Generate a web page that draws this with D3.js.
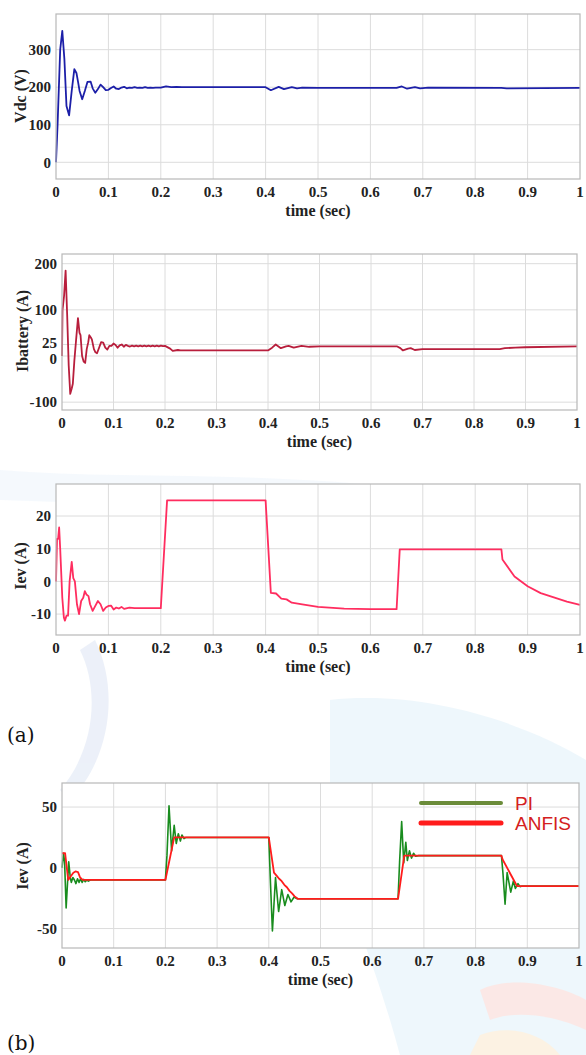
<!DOCTYPE html>
<html>
<head>
<meta charset="utf-8">
<title>Vdc / Ibattery / Iev responses</title>
<script src="https://d3js.org/d3.v7.min.js"></script>
<style>
  body { margin: 0; background: #fff; }
  svg { display: block; }
  .tick-label { font-family: "Liberation Serif", "Times New Roman", serif; font-weight: bold; font-size: 15px; fill: #222; }
  .axis-title { font-family: "Liberation Serif", "Times New Roman", serif; font-weight: bold; font-size: 16px; fill: #222; }
  .grid line { stroke: #dcdcdc; stroke-width: 1; }
  .frame { fill: none; stroke: #b8b8b8; stroke-width: 1.2; }
  .panel-tag { font-family: "DejaVu Serif", "Liberation Serif", serif; font-size: 20px; fill: #111; }
  .legend-text { font-family: "Liberation Sans", Arial, sans-serif; font-size: 19px; fill: #d42020; }
</style>
</head>
<body>
<svg id="chart" width="586" height="1055"></svg>
<script>
// ---- data ----
const timeTicks = [0, 0.1, 0.2, 0.3, 0.4, 0.5, 0.6, 0.7, 0.8, 0.9, 1];

const vdcTicks = [0, 100, 200, 300];
const vdcPoints = [
  [0, 0], [0.003, 100], [0.008, 300], [0.012, 350], [0.016, 275], [0.02, 150], [0.025, 125],
  [0.03, 190], [0.035, 248], [0.039, 238], [0.042, 215], [0.045, 190], [0.05, 168], [0.055, 190],
  [0.06, 214], [0.066, 215], [0.07, 197], [0.075, 185], [0.08, 195], [0.085, 207], [0.09, 200],
  [0.095, 192], [0.1, 193], [0.105, 198], [0.11, 202], [0.115, 196], [0.12, 195], [0.125, 199],
  [0.13, 201], [0.135, 197], [0.14, 199], [0.145, 198], [0.15, 200], [0.155, 198], [0.16, 199],
  [0.165, 198], [0.17, 200], [0.175, 198], [0.18, 199], [0.185, 198], [0.19, 199], [0.2, 199],
  [0.21, 202], [0.22, 200], [0.23, 201], [0.24, 200], [0.4, 200], [0.41, 192], [0.425, 201],
  [0.435, 195], [0.45, 200], [0.46, 197], [0.47, 199], [0.5, 198], [0.65, 198], [0.66, 202],
  [0.67, 196], [0.685, 200], [0.695, 197], [0.71, 199], [0.85, 198], [0.86, 197], [1, 198]
];

const ibatTicks = [-100, 0, 25, 100, 200];
const ibatPoints = [
  [0, 0], [0.001, 100], [0.004, 130], [0.007, 185], [0.01, 90], [0.013, -20], [0.016, -82],
  [0.019, -70], [0.021, -60], [0.024, -10], [0.027, 30], [0.031, 82], [0.034, 50], [0.036, 45],
  [0.039, 0], [0.042, -12], [0.045, -15], [0.048, 15], [0.051, 30], [0.053, 45], [0.056, 40],
  [0.058, 36], [0.062, 15], [0.065, 8], [0.068, 6], [0.072, 18], [0.076, 30], [0.08, 29],
  [0.084, 18], [0.088, 14], [0.092, 22], [0.096, 22], [0.1, 27], [0.104, 24], [0.108, 18],
  [0.112, 23], [0.116, 25], [0.12, 20], [0.124, 24], [0.128, 22], [0.132, 20.5], [0.136, 22.5],
  [0.14, 21], [0.144, 22.5], [0.148, 21], [0.152, 22.5], [0.156, 21], [0.16, 22.5], [0.164, 21],
  [0.168, 22.5], [0.172, 21], [0.176, 22.5], [0.18, 21], [0.184, 22.5], [0.188, 21], [0.192, 22.5],
  [0.196, 21.5], [0.2, 22], [0.21, 16], [0.215, 11], [0.225, 13], [0.23, 12], [0.4, 12],
  [0.408, 18], [0.415, 25], [0.425, 17], [0.435, 21], [0.44, 22], [0.45, 18], [0.465, 22],
  [0.48, 20], [0.5, 21], [0.65, 21], [0.657, 17], [0.662, 12], [0.672, 16], [0.677, 17],
  [0.685, 13], [0.7, 15], [0.85, 15], [0.86, 17], [0.88, 18], [0.9, 19], [1, 21]
];

const iev1Ticks = [-10, 0, 10, 20];
const iev1Points = [
  [0, 0], [0.002, 13], [0.004, 13], [0.006, 16.5], [0.008, 10], [0.012, -5], [0.015, -11],
  [0.017, -12], [0.02, -10.5], [0.023, -10.5], [0.026, 0], [0.03, 6], [0.033, 1], [0.036, 0],
  [0.04, -7], [0.044, -10], [0.048, -6], [0.052, -5], [0.055, -3], [0.058, -4], [0.062, -4.5],
  [0.065, -7], [0.07, -9], [0.075, -7.5], [0.08, -6], [0.085, -7], [0.09, -9], [0.095, -8],
  [0.1, -7.5], [0.105, -7.4], [0.11, -8.6], [0.115, -8], [0.12, -8.3], [0.125, -7.8], [0.13, -8.4],
  [0.14, -8], [0.15, -8.2], [0.2, -8.2], [0.212, 24.8], [0.4, 24.8], [0.41, -3.5], [0.42, -3.7],
  [0.43, -5.3], [0.44, -5.5], [0.45, -6.5], [0.47, -7], [0.5, -7.8], [0.55, -8.3], [0.6, -8.5],
  [0.65, -8.5], [0.656, 9.8], [0.85, 9.8], [0.852, 6.7], [0.875, 1.5], [0.9, -1.5],
  [0.925, -3.6], [0.95, -4.9], [0.975, -6.2], [1, -7.2]
];

const iev2Ticks = [-50, 0, 50];
const piPoints = [
  [0, 0], [0.003, 12], [0.005, 5], [0.008, -33], [0.011, -10], [0.013, 5], [0.016, -8],
  [0.018, -12], [0.021, -8], [0.024, -10], [0.027, -13], [0.03, -9], [0.033, -12], [0.036, -9],
  [0.039, -12], [0.042, -9.5], [0.045, -11.5], [0.048, -10], [0.051, -11], [0.055, -10],
  [0.2, -10], [0.203, 10], [0.207, 51], [0.212, 14], [0.217, 35], [0.221, 20], [0.225, 28],
  [0.229, 22], [0.232, 27], [0.236, 24], [0.24, 25], [0.4, 25], [0.403, -10], [0.407, -52],
  [0.413, -8], [0.419, -36], [0.425, -18], [0.431, -31], [0.437, -22], [0.443, -28],
  [0.449, -24], [0.455, -25.5], [0.65, -25.5], [0.653, 5], [0.657, 38], [0.661, 4],
  [0.665, 21], [0.668, 6], [0.672, 14], [0.676, 8], [0.68, 12], [0.684, 9.5], [0.69, 10],
  [0.85, 10], [0.853, -5], [0.857, -30], [0.861, -4], [0.868, -20], [0.873, -11], [0.877, -17],
  [0.882, -13], [0.886, -15.5], [0.89, -15], [1, -15]
];
const anfisPoints = [
  [0, 12], [0.006, 12], [0.012, -10], [0.017, -7], [0.022, -4], [0.026, -3], [0.031, -3.5],
  [0.035, -8], [0.04, -10], [0.2, -10], [0.217, 25], [0.4, 25], [0.41, -4], [0.415, -6.5],
  [0.42, -9], [0.425, -11], [0.43, -14], [0.435, -16], [0.44, -19], [0.445, -21], [0.45, -23.5],
  [0.456, -25.5], [0.65, -25.5], [0.662, 10], [0.85, 10], [0.852, 7], [0.88, -15], [1, -15]
];

const legendNames = ['PI', 'ANFIS'];

// ---- drawing ----
const svg = d3.select('#chart');

// faint watermark behind the lower panels
const wm = svg.append('g').attr('opacity', 0.35);
wm.append('path')
  .attr('d', 'M330,700 C420,690 520,720 586,760 L586,1055 L400,1055 C380,980 350,900 330,860 Z')
  .attr('fill', '#cfe9f7');
wm.append('path')
  .attr('d', 'M0,470 C120,480 260,470 420,490 L420,520 C260,505 120,505 0,500 Z')
  .attr('fill', '#e3eef8');
wm.append('path')
  .attr('d', 'M95,640 C120,690 110,760 70,800 L60,790 C95,750 100,690 80,650 Z')
  .attr('fill', '#c9d6ee');
wm.append('path')
  .attr('d', 'M480,990 C510,975 560,985 586,1000 L586,1030 C555,1015 515,1010 490,1020 Z')
  .attr('fill', '#f6c0b8');
wm.append('path')
  .attr('d', 'M480,1035 C505,1025 540,1030 560,1055 L470,1055 Z')
  .attr('fill', '#f7dcb0');

function drawPanel(p) {
  const x = d3.scaleLinear().domain([0, 1]).range([p.left, p.right]);
  const y = d3.scaleLinear().domain(p.yDomain).range([p.bottom, p.top]);
  const g = svg.append('g');

  // white plot area
  g.append('rect')
    .attr('x', p.left).attr('y', p.top)
    .attr('width', p.right - p.left).attr('height', p.bottom - p.top)
    .attr('fill', '#fff');

  // grid
  g.append('g').attr('class', 'grid')
    .selectAll('line.v').data(timeTicks.slice(1, -1)).enter().append('line')
    .attr('x1', d => x(d)).attr('x2', d => x(d))
    .attr('y1', p.top).attr('y2', p.bottom);
  g.append('g').attr('class', 'grid')
    .selectAll('line.h').data(p.yTicks).enter().append('line')
    .attr('x1', p.left).attr('x2', p.right)
    .attr('y1', d => y(d)).attr('y2', d => y(d));

  // series
  const line = d3.line().x(d => x(d[0])).y(d => y(d[1]));
  p.series.forEach(s => {
    g.append('path').datum(s.points)
      .attr('d', line)
      .attr('fill', 'none')
      .attr('stroke', s.color)
      .attr('stroke-width', s.width)
      .attr('stroke-linejoin', 'round');
  });

  g.append('rect').attr('class', 'frame')
    .attr('x', p.left).attr('y', p.top)
    .attr('width', p.right - p.left).attr('height', p.bottom - p.top);

  // tick labels
  g.selectAll('text.xt').data(timeTicks).enter().append('text')
    .attr('class', 'tick-label')
    .attr('x', d => x(d)).attr('y', p.bottom + 18)
    .attr('text-anchor', 'middle')
    .text(d => d3.format('~g')(d));
  g.selectAll('text.yt').data(p.yTicks).enter().append('text')
    .attr('class', 'tick-label')
    .attr('x', p.left - 5).attr('y', d => y(d) + (p.yNudge && p.yNudge[d] || 0))
    .attr('dy', '0.35em')
    .attr('text-anchor', 'end')
    .text(d => d);

  g.append('text').attr('class', 'axis-title')
    .attr('x', (p.left + p.right) / 2).attr('y', p.bottom + 37)
    .attr('text-anchor', 'middle')
    .text('time (sec)');
  g.append('text').attr('class', 'axis-title')
    .attr('transform', `translate(${p.yTitleX},${p.yTitleY}) rotate(-90)`)
    .attr('text-anchor', 'middle')
    .attr('dy', '0.35em')
    .text(p.yTitle);

  return { x, y };
}

drawPanel({
  left: 56, right: 580, top: 14, bottom: 179,
  yDomain: [-44.5, 395], yTicks: vdcTicks, yTitle: 'Vdc (V)', yTitleX: 20, yTitleY: 96,
  series: [{ points: vdcPoints, color: '#1c1fa8', width: 1.8 }]
});

drawPanel({
  left: 62, right: 577, top: 254, bottom: 410,
  yDomain: [-117, 221], yTicks: ibatTicks, yTitle: 'Ibattery (A)', yTitleX: 22, yTitleY: 331,
  yNudge: { 25: -2, 0: 3 },
  series: [{ points: ibatPoints, color: '#b81e3c', width: 1.8 }]
});

drawPanel({
  left: 56, right: 580, top: 484, bottom: 635,
  yDomain: [-16.4, 29.8], yTicks: iev1Ticks, yTitle: 'Iev (A)', yTitleX: 20, yTitleY: 566,
  series: [{ points: iev1Points, color: '#ff2d5f', width: 1.8 }]
});

drawPanel({
  left: 62, right: 579, top: 783, bottom: 948,
  yDomain: [-66, 69.8], yTicks: iev2Ticks, yTitle: 'Iev (A)', yTitleX: 22, yTitleY: 866,
  series: [
    { points: piPoints, color: '#198c1e', width: 1.6 },
    { points: anfisPoints, color: '#ff1c1c', width: 1.8 }
  ]
});

// legend
const legendColors = ['#6b8c3a', '#ff1c1c'];
const legendWidths = [4, 5];
const legend = svg.append('g');
legendNames.forEach((name, i) => {
  const ly = 803 + i * 20;
  legend.append('line')
    .attr('x1', 421).attr('x2', 501).attr('y1', ly).attr('y2', ly)
    .attr('stroke', legendColors[i]).attr('stroke-width', legendWidths[i])
    .attr('stroke-linecap', 'round');
  legend.append('text').attr('class', 'legend-text')
    .attr('x', 515).attr('y', ly).attr('dy', '0.35em')
    .text(name);
});

// panel tags
svg.append('text').attr('class', 'panel-tag').attr('x', 7).attr('y', 742).text('(a)');
svg.append('text').attr('class', 'panel-tag').attr('x', 7).attr('y', 1050).text('(b)');
</script>
</body>
</html>
